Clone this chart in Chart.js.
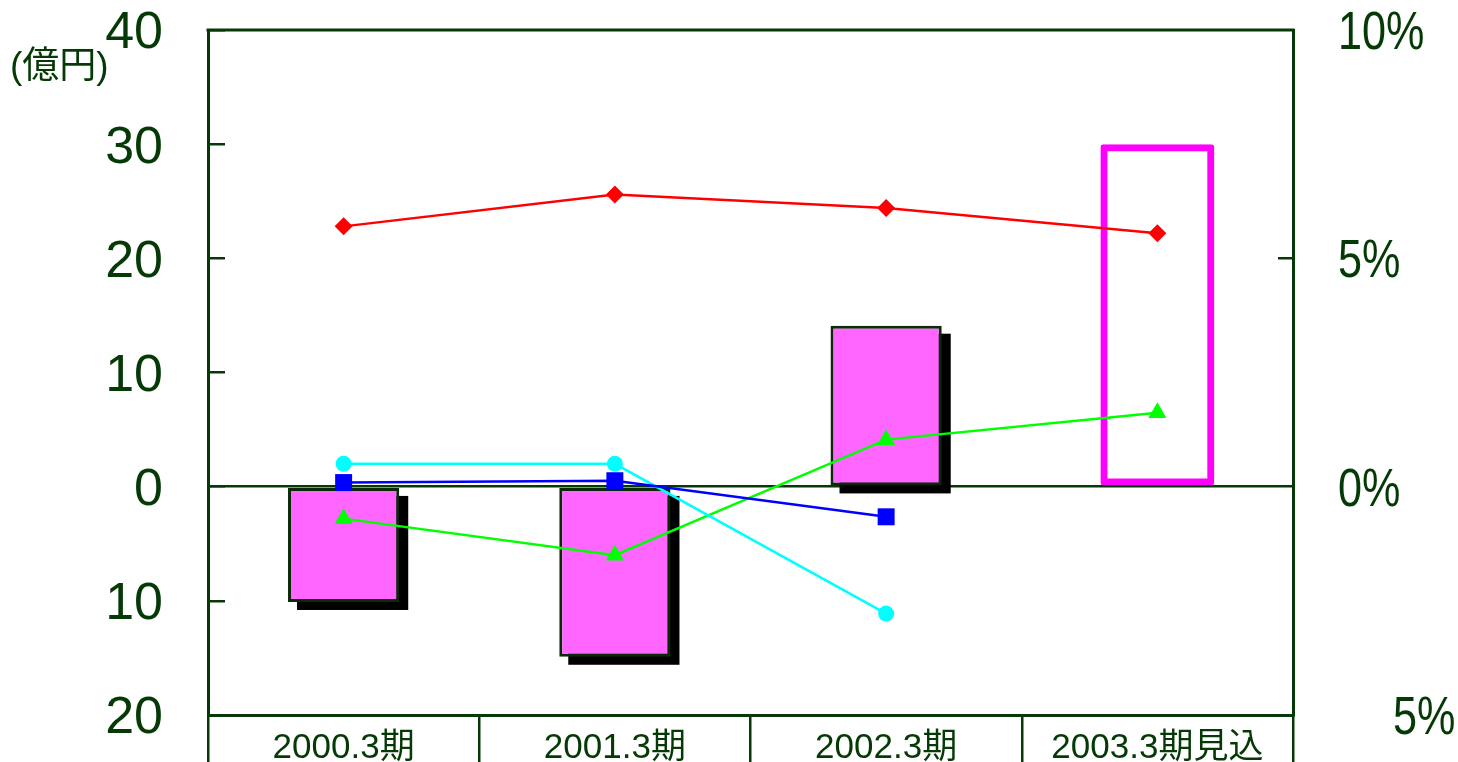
<!DOCTYPE html>
<html>
<head>
<meta charset="utf-8">
<script src="https://cdn.jsdelivr.net/npm/chart.js@4/dist/chart.umd.min.js"></script>
<style>
 html, body { margin: 0; padding: 0; background: #fff; }
</style>
</head>
<body>
<canvas id="myChart" width="1458" height="762"></canvas>
<script>
var categories = ['2000.3期', '2001.3期', '2002.3期', '2003.3期見込'];
// bars, 億円 (left axis)
var profitBars = [-10.1, -14.9, 14.1, null];
var forecastBars = [null, null, null, 30];
// lines, % (right axis)
var redLine = [5.7, 6.4, 6.1, 5.55];
var blueLine = [0.09, 0.13, -0.66, null];
var cyanLine = [0.5, 0.5, -2.78, null];
var greenLine = [-0.7, -1.5, 1.03, 1.62];
// right axis tick labels, bottom to top
var rightLabels = ['5%', '0%', '5%', '10%'];
var unitLabel = '(億円)';

var DARK = '#053905';
var FONT = "'Liberation Sans', Arial, 'Noto Sans CJK JP', sans-serif";

var extras = {
	id: 'extras',
	beforeDatasetDraw: function (chart, args) {
		if (args.index !== 4) return;
		// black drop shadow behind the filled bars
		var c = chart.ctx;
		c.save();
		c.fillStyle = '#000';
		args.meta.data.forEach(function (bar, i) {
			if (profitBars[i] == null) return;
			var p = bar.getProps(['x', 'y', 'base', 'width'], true);
			c.fillRect(p.x - p.width / 2 + 9, Math.min(p.y, p.base) + 8, p.width, Math.abs(p.base - p.y));
		});
		c.restore();
	},
	afterDraw: function (chart) {
		var c = chart.ctx, a = chart.chartArea;
		c.save();
		c.strokeStyle = DARK;
		c.lineWidth = 3;
		c.beginPath();
		c.moveTo(a.left - 1.5, a.top);
		c.lineTo(a.right + 1.5, a.top);
		c.stroke();

		var s = chart.scales.y2;
		c.fillStyle = DARK;
		c.textBaseline = 'middle';
		c.textAlign = 'left';
		c.font = '54px ' + FONT;
		s.ticks.forEach(function (t, i) {
			var y = s.getPixelForValue(t.value) + 4;
			var x = a.right + 45 + (t.value === s.min ? 55 : 0);
			c.save();
			c.translate(x, y);
			c.scale(0.8, 1);
			c.fillText(rightLabels[i], 0, 0);
			c.restore();
		});

		c.font = '37px ' + FONT;
		c.fillText(unitLabel, 10, 68);
		c.restore();
	}
};

var ctx = document.getElementById('myChart');
var myChart = new Chart(ctx, {
	data: {
		labels: categories,
		datasets: [
			{ type: 'line', yAxisID: 'y2', data: redLine, borderColor: '#ff0000', backgroundColor: '#ff0000',
				borderWidth: 2.5, pointStyle: 'rectRot', pointRadius: 9, pointBorderWidth: 0, order: 1 },
			{ type: 'line', yAxisID: 'y2', data: blueLine, borderColor: '#0000ff', backgroundColor: '#0000ff',
				borderWidth: 2.5, pointStyle: 'rect', pointRadius: 12, pointBorderWidth: 0, order: 1 },
			{ type: 'line', yAxisID: 'y2', data: cyanLine, borderColor: '#00ffff', backgroundColor: '#00ffff',
				borderWidth: 2.5, pointStyle: 'circle', pointRadius: 8, pointBorderWidth: 0, order: 1 },
			{ type: 'line', yAxisID: 'y2', data: greenLine, borderColor: '#00ff00', backgroundColor: '#00ff00',
				borderWidth: 2.5, pointStyle: 'triangle', pointRadius: 10.5, pointBorderWidth: 0, order: 1 },
			{ type: 'bar', yAxisID: 'y', data: profitBars, backgroundColor: '#ff66ff', borderColor: '#0a2a0a',
				borderWidth: 3, borderSkipped: false, barPercentage: 0.41, categoryPercentage: 1, order: 2 },
			{ type: 'bar', yAxisID: 'y', data: forecastBars, backgroundColor: 'rgba(255,255,255,0)', borderColor: '#ff00ff',
				borderWidth: 7, borderRadius: 3, borderSkipped: false, barPercentage: 0.42, categoryPercentage: 1, order: 2 }
		]
	},
	options: {
		responsive: false,
		animation: false,
		layout: { padding: { top: 30, left: 0, right: 0, bottom: 0 } },
		plugins: { legend: { display: false }, tooltip: { enabled: false } },
		scales: {
			x: {
				stacked: true,
				offset: true,
				grid: { offset: true, drawOnChartArea: false, tickLength: 47, color: DARK, lineWidth: 2.5 },
				border: { color: DARK, width: 3 },
				ticks: { color: DARK, font: { size: 35, family: FONT }, padding: -35, maxRotation: 0, autoSkip: false },
				afterFit: function (s) { s.height = 47; s.paddingLeft = 0; s.paddingRight = 0; }
			},
			y: {
				stacked: true,
				min: -20, max: 40,
				ticks: { stepSize: 10, color: DARK, font: { size: 52, family: FONT }, padding: 62, labelOffset: 4,
					callback: function (v) { return Math.abs(v); } },
				grid: {
					lineWidth: 2.5, tickLength: -17, tickColor: DARK,
					color: function (c) { return c.tick && c.tick.value === 0 ? DARK : 'rgba(0,0,0,0)'; }
				},
				border: { color: DARK, width: 3 },
				afterFit: function (s) { s.width = 208; s.paddingTop = 0; s.paddingBottom = 0; }
			},
			y2: {
				position: 'right',
				min: -5, max: 10,
				ticks: { stepSize: 5, display: false },
				grid: {
					drawOnChartArea: false, lineWidth: 2.5, tickLength: -15,
					tickColor: function (c) { return c.tick && c.tick.value === 5 ? DARK : 'rgba(0,0,0,0)'; }
				},
				border: { color: DARK, width: 3 },
				afterFit: function (s) { s.width = 165; s.paddingTop = 0; s.paddingBottom = 0; }
			}
		}
	},
	plugins: [extras]
});
</script>
</body>
</html>
